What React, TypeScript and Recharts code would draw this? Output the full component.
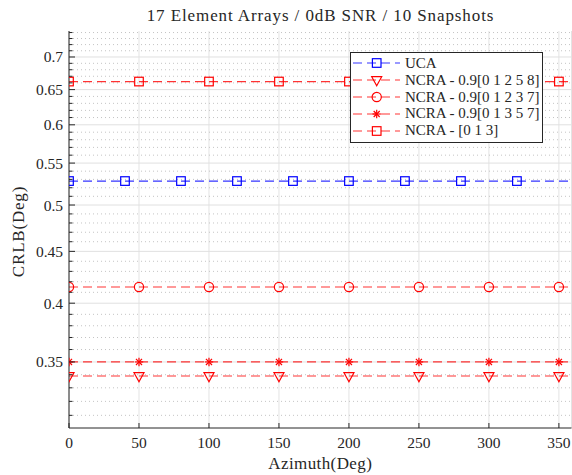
import React from "react";
import { LineChart, Line, XAxis, YAxis, CartesianGrid, ReferenceLine, Legend } from "recharts";

const FONT = '"Liberation Serif", "DejaVu Serif", serif';
const AXIS = "#262626";

// axis ticks
const azimuthTicks = [0, 50, 100, 150, 200, 250, 300, 350];
const yMajorTicks = [0.35, 0.4, 0.45, 0.5, 0.55, 0.6, 0.65, 0.7];
const yMinorTicks = [
  0.31, 0.32, 0.33, 0.34, 0.36, 0.37, 0.38, 0.39, 0.41, 0.42, 0.43, 0.44,
  0.46, 0.47, 0.48, 0.49, 0.51, 0.52, 0.53, 0.54, 0.56, 0.57, 0.58, 0.59,
  0.61, 0.62, 0.63, 0.64, 0.66, 0.67, 0.68, 0.69, 0.71, 0.72, 0.73, 0.74,
];
const yAllTicks = [...yMinorTicks, ...yMajorTicks].sort((a, b) => a - b);

// series data (last point is the end of the line, no marker)
const ucaAzimuth = [0, 40, 80, 120, 160, 200, 240, 280, 320, 359];
const ucaCrlb = [0.528, 0.528, 0.528, 0.528, 0.528, 0.528, 0.528, 0.528, 0.528, 0.528];
const ncraAzimuth = [0, 50, 100, 150, 200, 250, 300, 350, 359];
const ncra12558Crlb = [0.339, 0.339, 0.339, 0.339, 0.339, 0.339, 0.339, 0.339, 0.339];
const ncra12337Crlb = [0.415, 0.415, 0.415, 0.415, 0.415, 0.415, 0.415, 0.415, 0.415];
const ncra13557Crlb = [0.35, 0.35, 0.35, 0.35, 0.35, 0.35, 0.35, 0.35, 0.35];
const ncra013Crlb = [0.662, 0.662, 0.662, 0.662, 0.662, 0.662, 0.662, 0.662, 0.662];

type Marker = "square" | "triangle" | "circle" | "star";

const series: { name: string; az: number[]; crlb: number[]; color: string; marker: Marker }[] = [
  { name: "UCA", az: ucaAzimuth, crlb: ucaCrlb, color: "#0000ff", marker: "square" },
  { name: "NCRA - 0.9[0 1 2 5 8]", az: ncraAzimuth, crlb: ncra12558Crlb, color: "#ff0000", marker: "triangle" },
  { name: "NCRA - 0.9[0 1 2 3 7]", az: ncraAzimuth, crlb: ncra12337Crlb, color: "#ff0000", marker: "circle" },
  { name: "NCRA - 0.9[0 1 3 5 7]", az: ncraAzimuth, crlb: ncra13557Crlb, color: "#ff0000", marker: "star" },
  { name: "NCRA - [0 1 3]", az: ncraAzimuth, crlb: ncra013Crlb, color: "#ff0000", marker: "square" },
];

const DASH = "9 5";

function drawMarker(shape: Marker, cx: number, cy: number, color: string, key?: string) {
  const common = { fill: "none", stroke: color, strokeWidth: 1.2 };
  if (shape === "square") return <rect key={key} x={cx - 4.3} y={cy - 4.3} width={8.6} height={8.6} {...common} />;
  if (shape === "circle") return <circle key={key} cx={cx} cy={cy} r={4.6} {...common} />;
  if (shape === "triangle")
    return <polygon key={key} points={`${cx - 5},${cy - 3.3} ${cx + 5},${cy - 3.3} ${cx},${cy + 5.7}`} {...common} />;
  const r = 4.2;
  const d = r * 0.72;
  return (
    <g key={key} stroke={color} strokeWidth={1.2}>
      <line x1={cx - r} x2={cx + r} y1={cy} y2={cy} />
      <line x1={cx} x2={cx} y1={cy - r} y2={cy + r} />
      <line x1={cx - d} x2={cx + d} y1={cy - d} y2={cy + d} />
      <line x1={cx - d} x2={cx + d} y1={cy + d} y2={cy - d} />
    </g>
  );
}

const LeftTick = (props: any) => {
  const { x, y, payload } = props;
  const major = yMajorTicks.includes(payload.value);
  return (
    <g>
      <line x1={x} x2={x + (major ? 6 : 3.5)} y1={y} y2={y} stroke={AXIS} strokeWidth={1} />
      {major && (
        <text x={x - 6} y={y} textAnchor="end" dominantBaseline="central" fontFamily={FONT} fontSize={15.5} fill={AXIS}>
          {String(payload.value)}
        </text>
      )}
    </g>
  );
};

const RightTick = (props: any) => {
  const { x, y, payload } = props;
  const major = yMajorTicks.includes(payload.value);
  return <line x1={x} x2={x - (major ? 6 : 3.5)} y1={y} y2={y} stroke={AXIS} strokeWidth={1} />;
};

const BottomTick = (props: any) => {
  const { x, y, payload } = props;
  return (
    <g>
      <line x1={x} x2={x} y1={y} y2={y - 5} stroke={AXIS} strokeWidth={1} />
      <text x={x} y={y + 14} textAnchor="middle" dominantBaseline="central" fontFamily={FONT} fontSize={15.5} fill={AXIS}>
        {payload.value}
      </text>
    </g>
  );
};

const TopTick = (props: any) => {
  const { x, y } = props;
  return <line x1={x} x2={x} y1={y} y2={y + 5} stroke={AXIS} strokeWidth={1} />;
};

const XLabel = (props: any) => {
  const { viewBox } = props;
  const cx = viewBox.x + viewBox.width / 2;
  return (
    <text x={cx} y={463} textAnchor="middle" dominantBaseline="central" fontFamily={FONT} fontSize={17} letterSpacing={0.4} fill={AXIS}>
      Azimuth(Deg)
    </text>
  );
};

const YLabel = (props: any) => {
  const { viewBox } = props;
  const cy = viewBox.y + viewBox.height / 2 + 2;
  const cx = 18;
  return (
    <text x={cx} y={cy} transform={`rotate(-90 ${cx} ${cy})`} textAnchor="middle" dominantBaseline="central" fontFamily={FONT} fontSize={17} letterSpacing={0.8} fill={AXIS}>
      CRLB(Deg)
    </text>
  );
};

const LegendBox = () => (
  <div
    style={{
      background: "#fff",
      border: `1px solid ${AXIS}`,
      width: 191,
      padding: "2px 0 3px 0",
      fontFamily: FONT,
      fontSize: 15,
      color: AXIS,
      boxSizing: "content-box",
    }}
  >
    {series.map((s) => (
      <div key={s.name} style={{ display: "flex", alignItems: "center", height: 16.8, whiteSpace: "nowrap" }}>
        <svg width={54} height={16} style={{ flex: "none" }}>
          <line x1={2} x2={49} y1={8} y2={8} stroke={s.color} strokeOpacity={0.8} strokeWidth={1.2} strokeDasharray={DASH} />
          {drawMarker(s.marker, 25.7, 8, s.color)}
        </svg>
        <span>{s.name}</span>
      </div>
    ))}
  </div>
);

export default function App() {
  return (
    <div style={{ position: "absolute", left: 0, top: 0, width: 572, height: 475, background: "#fff" }}>
      <div
        style={{
          position: "absolute",
          left: 69,
          width: 503,
          top: 8,
          lineHeight: "16px",
          textAlign: "center",
          fontFamily: FONT,
          fontSize: 17,
          letterSpacing: 0.9,
          color: AXIS,
          whiteSpace: "nowrap",
        }}
      >
        17 Element Arrays / 0dB SNR / 10 Snapshots
      </div>
      <LineChart width={572} height={475} margin={{ top: 31, right: 0.5, bottom: 0, left: 0 }}>
        <CartesianGrid xAxisId="b" yAxisId="l" horizontal={false} stroke="#e3e3e3" strokeWidth={1} />
        {yMinorTicks.map((v) => (
          <ReferenceLine key={`mi${v}`} xAxisId="b" yAxisId="l" y={v} stroke="#c4c4c4" strokeDasharray="1 3" strokeWidth={1} />
        ))}
        {yMajorTicks.map((v) => (
          <ReferenceLine key={`ma${v}`} xAxisId="b" yAxisId="l" y={v} stroke="#e0e0e0" strokeWidth={1} />
        ))}
        <XAxis
          xAxisId="b"
          dataKey="az"
          type="number"
          domain={[0, 359]}
          ticks={azimuthTicks}
          interval={0}
          allowDataOverflow
          height={47}
          tickSize={0}
          tickMargin={0}
          tickLine={false}
          axisLine={{ stroke: AXIS }}
          tick={<BottomTick />}
          label={<XLabel />}
        />
        <XAxis
          xAxisId="t"
          orientation="top"
          type="number"
          domain={[0, 359]}
          ticks={azimuthTicks}
          interval={0}
          allowDataOverflow
          height={0}
          tickSize={0}
          tickMargin={0}
          tickLine={false}
          axisLine={{ stroke: AXIS }}
          tick={<TopTick />}
        />
        <YAxis
          yAxisId="l"
          type="number"
          scale="log"
          domain={[0.3012, 0.7426]}
          ticks={yAllTicks}
          interval={0}
          allowDataOverflow
          width={69}
          tickSize={0}
          tickMargin={0}
          tickLine={false}
          axisLine={{ stroke: AXIS }}
          tick={<LeftTick />}
          label={<YLabel />}
        />
        <YAxis
          yAxisId="r"
          orientation="right"
          type="number"
          scale="log"
          domain={[0.3012, 0.7426]}
          ticks={yAllTicks}
          interval={0}
          allowDataOverflow
          width={0}
          tickSize={0}
          tickMargin={0}
          tickLine={false}
          axisLine={{ stroke: AXIS }}
          tick={<RightTick />}
        />
        <Legend
          layout="vertical"
          align="center"
          verticalAlign="middle"
          content={<LegendBox />}
          wrapperStyle={{ left: 350, top: 52, width: 193 }}
        />
        {series.map((s) => {
          const data = s.az.map((az, i) => ({ az, v: s.crlb[i] }));
          const last = s.az[s.az.length - 1];
          return (
            <Line
              key={s.name}
              xAxisId="b"
              yAxisId="l"
              data={data}
              dataKey="v"
              name={s.name}
              stroke={s.color}
              strokeOpacity={0.8}
              strokeWidth={1.2}
              strokeDasharray={DASH}
              isAnimationActive={false}
              dot={(p: any) =>
                p.payload.az === last ? <g key={`${s.name}-${p.index}`} /> : drawMarker(s.marker, p.cx, p.cy, s.color, `${s.name}-${p.index}`)
              }
              activeDot={false}
            />
          );
        })}
      </LineChart>
    </div>
  );
}
